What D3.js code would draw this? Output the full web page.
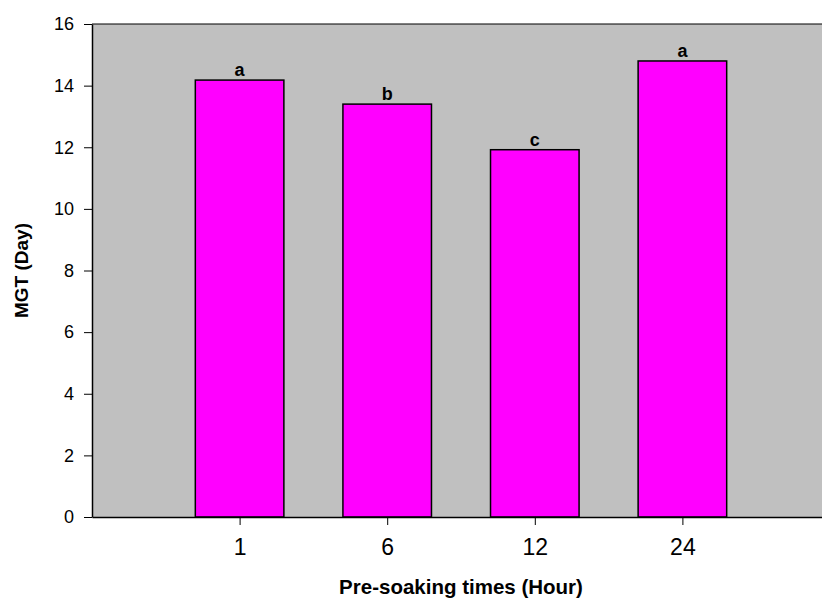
<!DOCTYPE html>
<html>
<head>
<meta charset="utf-8">
<script src="https://cdn.jsdelivr.net/npm/d3@7"></script>
<style>
  body { margin: 0; background: #fff; }
  svg { display: block; font-family: Arial, "Liberation Sans", sans-serif; }
</style>
</head>
<body>
<svg id="chart" width="822" height="599"></svg>
<script>
// data
const categories = ["1", "6", "12", "24"];
const values = [14.18, 13.4, 11.92, 14.8];
const letters = ["a", "b", "c", "a"];
const yTicks = [0, 2, 4, 6, 8, 10, 12, 14, 16];

const margin = { top: 24, left: 92, bottom: 82 };
const W = 822, H = 599;
const plotRight = 830; // plot frame runs past the window edge
const h = H - margin.top - margin.bottom;
const font = "Arial, 'Liberation Sans', sans-serif";

const svg = d3.select("#chart");

const x = d3.scaleLinear().domain([0, categories.length + 1]).range([margin.left, plotRight]);
const y = d3.scaleLinear().domain([0, 16]).range([margin.top + h, margin.top]);
const step = x(1) - x(0);
const barW = step * 0.6;

// grey plot background
svg.append("rect")
  .attr("x", margin.left).attr("y", margin.top)
  .attr("width", plotRight - margin.left).attr("height", h)
  .attr("fill", "#c0c0c0");

// bars
svg.selectAll(".bar")
  .data(values)
  .enter().append("rect")
  .attr("class", "bar")
  .attr("x", (d, i) => x(i + 1) - barW / 2)
  .attr("y", d => y(d))
  .attr("width", barW)
  .attr("height", d => y(0) - y(d))
  .attr("fill", "#ff00ff")
  .attr("stroke", "#000")
  .attr("stroke-width", 1.5);

// significance letters
svg.selectAll(".letter")
  .data(values)
  .enter().append("text")
  .attr("x", (d, i) => x(i + 1))
  .attr("y", d => y(d) - 4)
  .attr("text-anchor", "middle")
  .style("font-size", "18px")
  .style("font-weight", "bold")
  .text((d, i) => letters[i]);

// frame: top line
svg.append("line")
  .attr("x1", margin.left).attr("x2", plotRight)
  .attr("y1", margin.top).attr("y2", margin.top)
  .attr("stroke", "#000").attr("stroke-width", 1.2);

// y axis
const yAxis = svg.append("g")
  .attr("transform", "translate(" + margin.left + ",0)")
  .call(d3.axisLeft(y).tickValues(yTicks).tickSize(8).tickSizeOuter(0).tickPadding(10));
yAxis.select(".domain").attr("stroke-width", 1.5);
yAxis.selectAll("text").style("font-size", "18px").style("font-family", font).attr("fill", "#000");

// x axis
const xAxis = svg.append("g")
  .attr("transform", "translate(0," + y(0) + ")")
  .call(d3.axisBottom(x).tickValues(categories.map((c, i) => i + 1))
    .tickFormat((d) => categories[d - 1]).tickSize(8).tickSizeOuter(0).tickPadding(14));
xAxis.select(".domain").attr("stroke-width", 1.5);
xAxis.selectAll("text").style("font-size", "23px").style("font-family", font).attr("fill", "#000");

// axis titles
svg.append("text")
  .attr("x", 461).attr("y", 594)
  .attr("text-anchor", "middle")
  .style("font-size", "20.5px").style("font-weight", "bold")
  .text("Pre-soaking times (Hour)");

svg.append("text")
  .attr("transform", "translate(28," + (margin.top + h / 2) + ") rotate(-90)")
  .attr("text-anchor", "middle")
  .style("font-size", "19px").style("font-weight", "bold")
  .text("MGT (Day)");
</script>
</body>
</html>
